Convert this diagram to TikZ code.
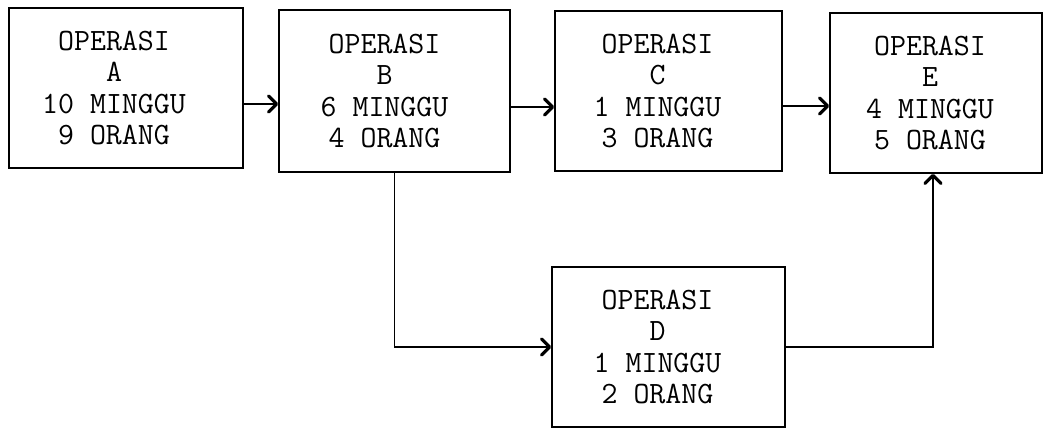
\documentclass[tikz,border=0pt]{standalone}
\usepackage{fontspec}
\usetikzlibrary{arrows.meta}
\tikzset{
  box/.style={draw, line width=1.6pt, rectangle, inner sep=0pt},
  lbl/.style={align=center, inner sep=0pt, font=\ttfamily\fontsize{31}{31.5}\selectfont},
  arr/.style={line width=1.2pt, -{Straight Barb[length=8pt,width=16pt,line width=3.2pt,round]}},
  conn/.style={line width=1.2pt}
}
\begin{document}
\begin{tikzpicture}[x=1pt,y=-1pt]
\useasboundingbox (0,0) rectangle (1044,429);
\node[box, minimum width=234pt, minimum height=160pt] (A) at (126,88) {};
\node[box, minimum width=231pt, minimum height=162pt] (B) at (394.5,91) {};
\node[box, minimum width=227pt, minimum height=160pt] (C) at (668.5,91) {};
\node[box, minimum width=212pt, minimum height=160pt] (E) at (936,93) {};
\node[box, minimum width=233pt, minimum height=160pt] (D) at (668.5,347) {};

\node[lbl] (tA) at ([xshift=-12pt]A.center) {OPERASI\\A\\10 MINGGU\\9 ORANG};
\node[lbl] (tB) at ([xshift=-10pt]B.center) {OPERASI\\B\\6 MINGGU\\4 ORANG};
\node[lbl] (tC) at ([xshift=-11pt]C.center) {OPERASI\\C\\1 MINGGU\\3 ORANG};
\node[lbl] (tE) at ([xshift=-6pt]E.center) {OPERASI\\E\\4 MINGGU\\5 ORANG};
\node[lbl] (tD) at ([xshift=-11pt]D.center) {OPERASI\\D\\1 MINGGU\\2 ORANG};

\draw[arr] ([yshift=-16pt]A.east) -- ([yshift=-16pt]A.east -| B.west);
\draw[arr] ([yshift=-16pt]B.east) -- ([yshift=-16pt]B.east -| C.west);
\draw[arr] ([yshift=-15pt]C.east) -- ([yshift=-15pt]C.east -| E.west);
\draw[arr] (B.south) |- (D.west);
\draw[arr] (D.east) -| ([xshift=-3pt]E.south);
\end{tikzpicture}
\end{document}
